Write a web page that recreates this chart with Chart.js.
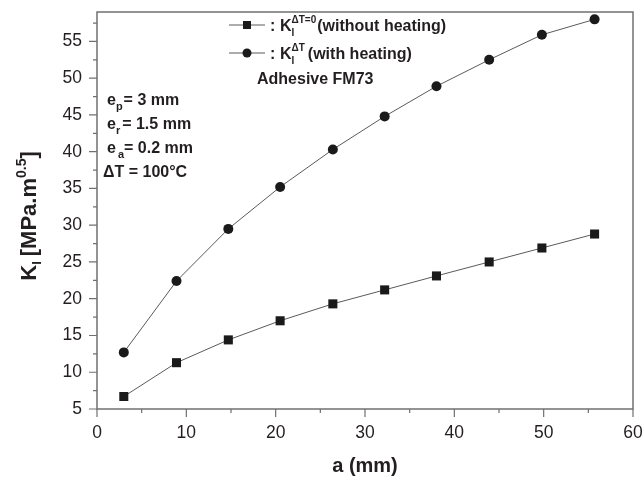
<!DOCTYPE html>
<html>
<head>
<meta charset="utf-8">
<script src="https://cdn.jsdelivr.net/npm/chart.js@4.4.1/dist/chart.umd.min.js"></script>
<style>
  body { margin: 0; background: #fff; }
</style>
</head>
<body>
<canvas id="myChart" width="644" height="480"></canvas>
<script>
// crack length a (mm) and stress intensity factor K_I (MPa.m^0.5)
const crackLength = [3.0, 8.9, 14.7, 20.5, 26.4, 32.2, 38.0, 43.9, 49.8, 55.7];
const kNoHeating = [6.7, 11.3, 14.4, 17.0, 19.3, 21.2, 23.1, 25.0, 26.9, 28.8];
const kHeating = [12.7, 22.4, 29.5, 35.2, 40.3, 44.8, 48.9, 52.5, 55.9, 58.0];

const xTicks = [0, 10, 20, 30, 40, 50, 60];
const xMinorTicks = [5, 15, 25, 35, 45, 55];
const yTicks = [5, 10, 15, 20, 25, 30, 35, 40, 45, 50, 55];
const yMinorTicks = [7.5, 12.5, 17.5, 22.5, 27.5, 32.5, 37.5, 42.5, 47.5, 52.5, 57.5];

const FONT = '"Liberation Sans", Arial, sans-serif';
const TEXT = '#231f20';
const LINE = '#5a5a5a';
const MARK = '#1a1a1a';

const toPoints = (xs, ys) => xs.map((x, i) => ({ x: x, y: ys[i] }));

// draw a run of text pieces; each piece can be shifted up/down and stacked
function drawRich(ctx, parts, x, y) {
  let cx = x;
  parts.forEach(p => {
    ctx.font = 'bold ' + p.size + 'px ' + FONT;
    ctx.fillText(p.t, cx, y + (p.dy || 0));
    const w = ctx.measureText(p.t).width;
    if (!p.stack) cx += w + (p.gap || 0);
  });
  return cx;
}

function richWidth(ctx, parts) {
  let w = 0;
  parts.forEach(p => {
    ctx.font = 'bold ' + p.size + 'px ' + FONT;
    if (!p.stack) w += ctx.measureText(p.t).width + (p.gap || 0);
  });
  return w;
}

const decorations = {
  id: 'decorations',
  afterDraw(chart) {
    const ctx = chart.ctx;
    const area = chart.chartArea;
    const xs = chart.scales.x;
    const ys = chart.scales.y;
    ctx.save();

    // frame
    ctx.strokeStyle = '#707070';
    ctx.lineWidth = 1.5;
    ctx.strokeRect(area.left, area.top, area.right - area.left, area.bottom - area.top);

    // tick marks, outward
    ctx.lineWidth = 1.2;
    ctx.beginPath();
    xTicks.forEach(v => { const px = xs.getPixelForValue(v); ctx.moveTo(px, area.bottom); ctx.lineTo(px, area.bottom + 8); });
    xMinorTicks.forEach(v => { const px = xs.getPixelForValue(v); ctx.moveTo(px, area.bottom); ctx.lineTo(px, area.bottom + 4); });
    yTicks.forEach(v => { const py = ys.getPixelForValue(v); ctx.moveTo(area.left, py); ctx.lineTo(area.left - 8, py); });
    yMinorTicks.forEach(v => { const py = ys.getPixelForValue(v); ctx.moveTo(area.left, py); ctx.lineTo(area.left - 4, py); });
    ctx.stroke();

    ctx.fillStyle = TEXT;
    ctx.textBaseline = 'alphabetic';
    ctx.textAlign = 'left';

    // x axis title
    ctx.font = 'bold 20px ' + FONT;
    ctx.textAlign = 'center';
    ctx.fillText('a (mm)', (area.left + area.right) / 2, 472);
    ctx.textAlign = 'left';

    // y axis title, rotated
    const yTitle = [
      { t: 'K', size: 22 },
      { t: 'I', size: 13, dy: 5, gap: 5 },
      { t: '[MPa.m', size: 22 },
      { t: '0.5', size: 14, dy: -10 },
      { t: ']', size: 22 }
    ];
    ctx.save();
    ctx.translate(36, 216);
    ctx.rotate(-Math.PI / 2);
    drawRich(ctx, yTitle, -richWidth(ctx, yTitle) / 2, 0);
    ctx.restore();

    // legend
    const legendRows = [
      { y: 25, style: 'rect', label: [
        { t: 'K', size: 16 },
        { t: 'I', size: 10, dy: 5, stack: true },
        { t: '\u0394T=0', size: 10, dy: -8, gap: 1 },
        { t: '(without heating)', size: 16 }
      ] },
      { y: 53, style: 'circle', label: [
        { t: 'K', size: 16 },
        { t: 'I', size: 10, dy: 5, stack: true },
        { t: '\u0394T', size: 10, dy: -8, gap: 3 },
        { t: '(with heating)', size: 16 }
      ] }
    ];
    legendRows.forEach(row => {
      ctx.strokeStyle = LINE;
      ctx.lineWidth = 1;
      ctx.beginPath();
      ctx.moveTo(229, row.y);
      ctx.lineTo(265, row.y);
      ctx.stroke();
      ctx.fillStyle = MARK;
      ctx.beginPath();
      if (row.style === 'rect') ctx.rect(243, row.y - 4, 8, 8);
      else ctx.arc(247, row.y, 4.5, 0, Math.PI * 2);
      ctx.fill();
      ctx.fillStyle = TEXT;
      ctx.font = 'bold 16px ' + FONT;
      ctx.fillText(':', 270, row.y + 6);
      drawRich(ctx, row.label, 280, row.y + 6);
    });
    ctx.font = 'bold 16px ' + FONT;
    ctx.fillText('Adhesive FM73', 257, 84);

    // geometry notes
    const notes = [
      { y: 105, parts: [{ t: 'e', size: 16 }, { t: 'p', size: 11, dy: 5, gap: 1 }, { t: '= 3 mm', size: 16 }] },
      { y: 129, parts: [{ t: 'e', size: 16 }, { t: 'r', size: 11, dy: 5, gap: 2 }, { t: '= 1.5 mm', size: 16 }] },
      { y: 153, parts: [{ t: 'e', size: 16, gap: 2 }, { t: 'a', size: 11, dy: 5 }, { t: '= 0.2 mm', size: 16 }] },
      { y: 177, parts: [{ t: '\u0394T = 100\u00b0C', size: 16 }] }
    ];
    notes.forEach((n, i) => drawRich(ctx, n.parts, i === 3 ? 103 : 107, n.y));

    ctx.restore();
  }
};

const ctx = document.getElementById('myChart');
new Chart(ctx, {
  type: 'scatter',
  data: {
    datasets: [
      {
        label: 'without heating',
        data: toPoints(crackLength, kNoHeating),
        showLine: true,
        borderColor: LINE,
        borderWidth: 1,
        pointStyle: 'rect',
        pointRadius: 6.4,
        pointBackgroundColor: MARK,
        pointBorderWidth: 0
      },
      {
        label: 'with heating',
        data: toPoints(crackLength, kHeating),
        showLine: true,
        borderColor: LINE,
        borderWidth: 1,
        pointStyle: 'circle',
        pointRadius: 5,
        pointBackgroundColor: MARK,
        pointBorderWidth: 0
      }
    ]
  },
  options: {
    responsive: false,
    animation: false,
    layout: { padding: { top: 12, right: 11, left: 0, bottom: 0 } },
    plugins: {
      legend: { display: false },
      tooltip: { enabled: false }
    },
    scales: {
      x: {
        type: 'linear',
        min: 0,
        max: 60,
        afterBuildTicks: s => { s.ticks = xTicks.map(v => ({ value: v })); },
        afterFit: s => { s.height = 71; s.paddingLeft = 0; s.paddingRight = 0; },
        grid: { display: false, drawTicks: false },
        border: { display: false },
        ticks: { color: TEXT, padding: 14, maxRotation: 0, font: { family: FONT, size: 17.5 } }
      },
      y: {
        min: 5,
        max: 59,
        afterBuildTicks: s => { s.ticks = yTicks.map(v => ({ value: v })); },
        afterFit: s => { s.width = 97; s.paddingTop = 0; s.paddingBottom = 0; },
        grid: { display: false, drawTicks: false },
        border: { display: false },
        ticks: { color: TEXT, padding: 15, font: { family: FONT, size: 17.5 } }
      }
    }
  },
  plugins: [decorations]
});
</script>
</body>
</html>
